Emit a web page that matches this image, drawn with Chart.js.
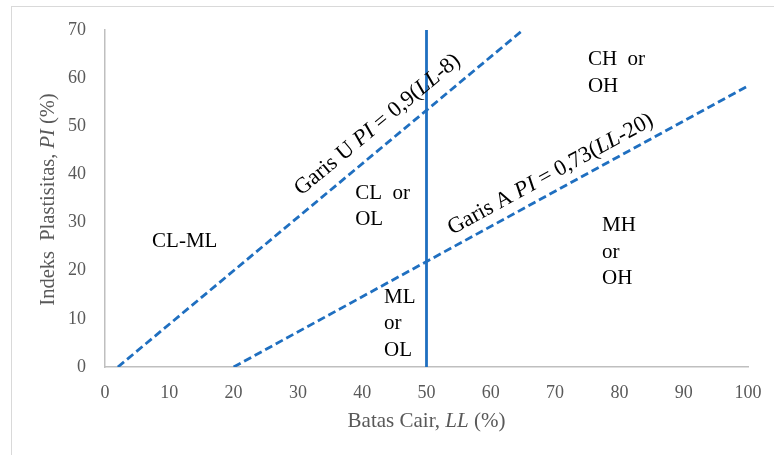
<!DOCTYPE html>
<html>
<head>
<meta charset="utf-8">
<script src="https://cdn.jsdelivr.net/npm/chart.js@4/dist/chart.umd.min.js"></script>
<style>
  html, body { margin: 0; padding: 0; background: #fff; }
  #wrap { width: 774px; height: 455px; position: relative; }
</style>
</head>
<body>
<div id="wrap"><canvas id="plasticityChart" width="774" height="455"></canvas></div>
<script>
// Data
const uLineLL = [2, 65];
const uLinePI = [0, 70];
const aLineLL = [20, 100];
const aLinePI = [0, 58.4];
const llDivLL = [50, 50];
const llDivPI = [0, 70];
const xTicks = [0, 10, 20, 30, 40, 50, 60, 70, 80, 90, 100];
const yTicks = [0, 10, 20, 30, 40, 50, 60, 70];

const SERIF = '"Liberation Serif", "Times New Roman", serif';
const BLUE = '#1f6fc0';
const GREY = '#595959';

const toPts = (xs, ys) => xs.map((x, i) => ({ x: x, y: ys[i] }));

// Zone labels (data coordinates of the first line, left or centred)
const zoneLabels = [
  { lines: ['CL-ML'], x: 12.4, y: 26, align: 'center' },
  { lines: ['CL  or', 'OL'], x: 38.9, y: 36.1, align: 'left' },
  { lines: ['CH  or', 'OH'], x: 75.1, y: 63.8, align: 'left' },
  { lines: ['ML', 'or', 'OL'], x: 43.4, y: 14.5, align: 'left' },
  { lines: ['MH', 'or', 'OH'], x: 77.3, y: 29.3, align: 'left' }
];

// parts: [text, italic]
function richWidth(ctx, parts, size) {
  let w = 0;
  parts.forEach(p => {
    ctx.font = (p[1] ? 'italic ' : '') + size + 'px ' + SERIF;
    w += ctx.measureText(p[0]).width;
  });
  return w;
}
function drawRich(ctx, parts, x, y, size, color) {
  const total = richWidth(ctx, parts, size);
  let cx = x - total / 2;
  ctx.fillStyle = color;
  ctx.textAlign = 'left';
  ctx.textBaseline = 'middle';
  parts.forEach(p => {
    ctx.font = (p[1] ? 'italic ' : '') + size + 'px ' + SERIF;
    ctx.fillText(p[0], cx, y);
    cx += ctx.measureText(p[0]).width;
  });
}

const textPlugin = {
  id: 'textPlugin',
  beforeDraw(chart) {
    const ctx = chart.ctx;
    ctx.save();
    ctx.strokeStyle = '#d9d9d9';
    ctx.lineWidth = 1;
    ctx.strokeRect(11.5, 6.5, 820, 500);
    ctx.restore();
  },
  afterDatasetsDraw(chart) {
    const ctx = chart.ctx;
    const xs = chart.scales.x, ys = chart.scales.y;
    ctx.save();

    // axis titles
    drawRich(ctx, [['Batas Cair, ', false], ['LL', true], [' (%)', false]],
      (xs.left + xs.right) / 2, 421, 21, GREY);
    ctx.save();
    ctx.translate(49, (ys.top + ys.bottom) / 2 + 1);
    ctx.rotate(-Math.PI / 2);
    drawRich(ctx, [['Indeks  Plastisitas, ', false], ['PI', true], [' (%)', false]], 0, 0, 20.5, GREY);
    ctx.restore();

    // zone labels
    ctx.fillStyle = '#000';
    ctx.font = '21px ' + SERIF;
    ctx.textBaseline = 'middle';
    zoneLabels.forEach(l => {
      ctx.textAlign = l.align;
      const px = xs.getPixelForValue(l.x);
      const py = ys.getPixelForValue(l.y);
      l.lines.forEach((t, i) => ctx.fillText(t, px, py + i * 26.5));
    });

    // rotated line labels
    const rot = (lx, ly) => Math.atan2(
      ys.getPixelForValue(ly[1]) - ys.getPixelForValue(ly[0]),
      xs.getPixelForValue(lx[1]) - xs.getPixelForValue(lx[0]));
    const lineLabel = (parts, cx, cy, ang) => {
      ctx.save();
      ctx.translate(xs.getPixelForValue(cx), ys.getPixelForValue(cy));
      ctx.rotate(ang);
      drawRich(ctx, parts, 0, 0, 22.5, '#000');
      ctx.restore();
    };
    lineLabel([['Garis U ', false], ['PI', true], [' = 0,9(', false], ['LL', true], ['-8)', false]],
      42.4, 50.3, rot(uLineLL, uLinePI));
    lineLabel([['Garis A ', false], ['PI', true], [' = 0,73(', false], ['LL', true], ['-20)', false]],
      69.3, 40.0, rot(aLineLL, aLinePI));
    ctx.restore();
  }
};

const ctx = document.getElementById('plasticityChart').getContext('2d');
const chart = new Chart(ctx, {
  type: 'scatter',
  data: {
    datasets: [
      { label: 'Garis U', data: toPts(uLineLL, uLinePI), showLine: true,
        borderColor: BLUE, borderWidth: 2.8, borderDash: [8, 4], pointRadius: 0 },
      { label: 'Garis A', data: toPts(aLineLL, aLinePI), showLine: true,
        borderColor: BLUE, borderWidth: 2.8, borderDash: [8, 4], pointRadius: 0 },
      { label: 'LL 50', data: toPts(llDivLL, llDivPI), showLine: true,
        borderColor: BLUE, borderWidth: 2.8, pointRadius: 0 }
    ]
  },
  options: {
    responsive: false,
    animation: false,
    layout: { padding: { left: 0, top: 30, right: 26, bottom: 0 } },
    plugins: { legend: { display: false }, tooltip: { enabled: false } },
    scales: {
      x: {
        type: 'linear', min: 0, max: 100,
        afterBuildTicks: s => { s.ticks = xTicks.map(v => ({ value: v })); },
        afterFit: s => { s.height = 88; s.paddingLeft = 0; s.paddingRight = 0; },
        grid: { display: false, drawTicks: false },
        border: { color: '#bfbfbf', width: 1.5 },
        ticks: { color: GREY, font: { family: SERIF, size: 18 }, padding: 15, maxRotation: 0 }
      },
      y: {
        type: 'linear', min: 0, max: 70,
        afterBuildTicks: s => { s.ticks = yTicks.map(v => ({ value: v })); },
        afterFit: s => { s.width = 105; s.paddingTop = 0; s.paddingBottom = 0; },
        grid: { display: false, drawTicks: false },
        border: { color: '#bfbfbf', width: 1.5 },
        ticks: { color: GREY, font: { family: SERIF, size: 18 }, padding: 19 }
      }
    }
  },
  plugins: [textPlugin]
});
</script>
</body>
</html>
